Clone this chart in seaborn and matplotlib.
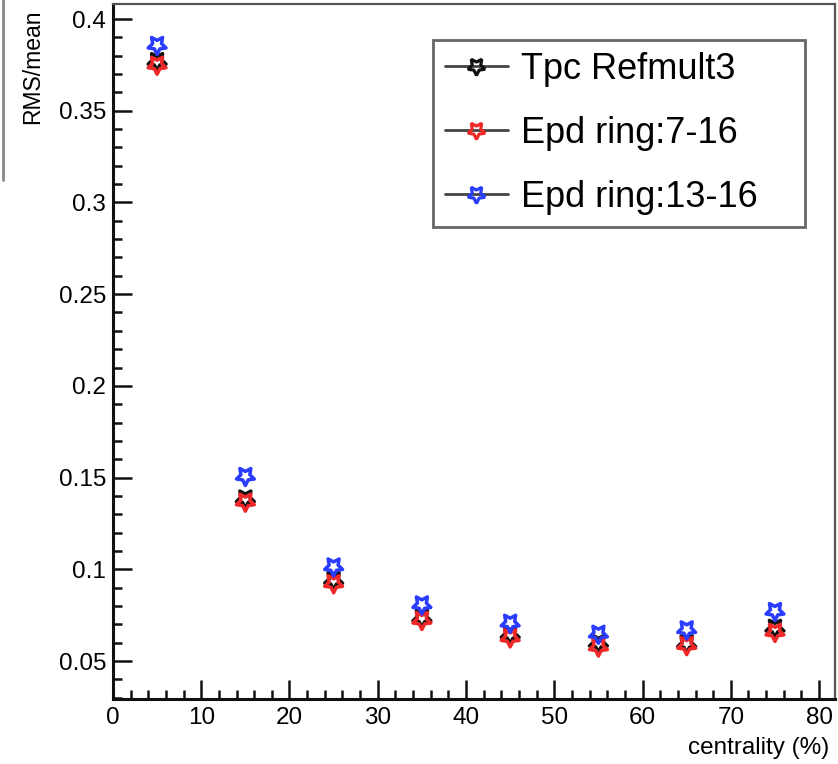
import matplotlib
matplotlib.use("Agg")
import matplotlib.pyplot as plt
from matplotlib.lines import Line2D
from matplotlib.ticker import FixedLocator, MultipleLocator
import seaborn as sns
import pandas as pd

# ---- data ----
centrality = [5, 15, 25, 35, 45, 55, 65, 75]
tpc_refmult3 = [0.377, 0.1385, 0.094, 0.0735, 0.0645, 0.0598, 0.0595, 0.068]
epd_7_16 = [0.375, 0.1368, 0.0923, 0.0723, 0.0628, 0.0578, 0.0586, 0.0658]
epd_13_16 = [0.3858, 0.1508, 0.1015, 0.0808, 0.0708, 0.0648, 0.0672, 0.0772]
series_names = ["Tpc Refmult3", "Epd ring:7-16", "Epd ring:13-16"]
series_colors = ["#111111", "#f02828", "#2a3cff"]
xticks = [0, 10, 20, 30, 40, 50, 60, 70, 80]
yticks = [0.05, 0.1, 0.15, 0.2, 0.25, 0.3, 0.35, 0.4]
ytick_labels = ["0.05", "0.1", "0.15", "0.2", "0.25", "0.3", "0.35", "0.4"]

sns.set_theme(style="ticks")
plt.rcParams["font.family"] = ["Liberation Sans", "DejaVu Sans"]
plt.rcParams["text.color"] = "black"
plt.rcParams["xtick.labelcolor"] = "black"
plt.rcParams["ytick.labelcolor"] = "black"

fig = plt.figure(figsize=(8.38, 7.64), dpi=100)
ax = fig.add_axes([0.1348, 0.0851, 0.8616, 0.9097])

star = (5, 1, 180)
ms = 13.5
handles = []
for name, vals, col in zip(series_names, [tpc_refmult3, epd_7_16, epd_13_16], series_colors):
    df = pd.DataFrame({"x": centrality, "y": vals})
    sns.scatterplot(data=df, x="x", y="y", ax=ax, marker=star, s=ms ** 2,
                    facecolors="none", edgecolor=col, linewidth=2.5, zorder=3)
    handles.append(Line2D([], [], color="#444444", lw=2.0, marker=star, markersize=ms * 0.95,
                          markerfacecolor="none", markeredgecolor=col, markeredgewidth=2.3))

ax.set_xlim(0, 81.8)
ax.set_ylim(0.0293, 0.4082)
ax.set_xlabel("")
ax.set_ylabel("")

ax.xaxis.set_major_locator(FixedLocator(xticks))
ax.xaxis.set_minor_locator(MultipleLocator(2))
ax.yaxis.set_major_locator(FixedLocator(yticks))
ax.set_yticklabels(ytick_labels)
ax.yaxis.set_minor_locator(MultipleLocator(0.01))

ax.tick_params(which="both", direction="in", color="#111111", width=1.8)
ax.tick_params(which="major", length=14, labelsize=17.5, pad=5)
ax.tick_params(which="minor", length=6.5)
ax.tick_params(axis="x", which="major", pad=6)

for side in ["left", "bottom"]:
    ax.spines[side].set_color("#111111")
    ax.spines[side].set_linewidth(2.2)
for side in ["top", "right"]:
    ax.spines[side].set_visible(True)
    ax.spines[side].set_color("#555555")
    ax.spines[side].set_linewidth(1.6)

leg = ax.legend(handles, series_names, loc="upper left",
                bbox_to_anchor=(0.443, 0.678, 0.515, 0.270), mode="expand",
                fontsize=26, handlelength=1.75, handletextpad=0.35,
                labelspacing=0.8, borderpad=0.33, borderaxespad=0.0,
                fancybox=False, framealpha=1.0, edgecolor="#666666")
leg.get_frame().set_linewidth(2.0)
for t in leg.get_texts():
    t.set_color("black")

fig.text(0.039, 0.987, "RMS/mean", rotation=90, ha="center", va="top", fontsize=16.5,
         color="black")
fig.text(0.990, 0.021, "centrality (%)", ha="right", va="center", fontsize=17.5,
         color="black")

fig.add_artist(Line2D([0.004, 0.004], [1.0, 0.764], transform=fig.transFigure,
                      color="#888888", lw=2.0))

fig.savefig("out.png", dpi=100)
